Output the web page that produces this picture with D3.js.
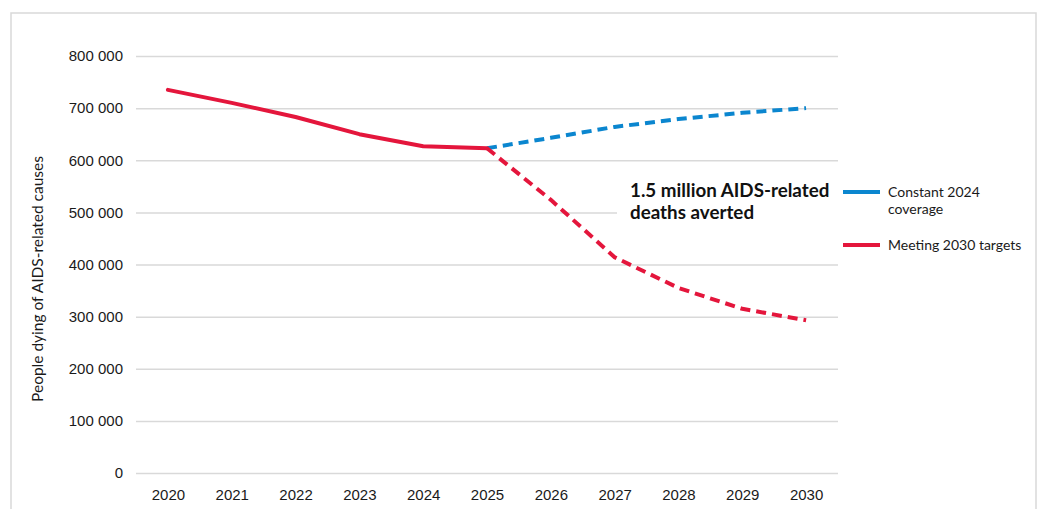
<!DOCTYPE html>
<html>
<head>
<meta charset="utf-8">
<script src="https://cdn.jsdelivr.net/npm/d3@7"></script>
<style>
  body { margin: 0; background: #fff; }
  svg { display: block; font-family: Lato, "Open Sans", sans-serif; }
</style>
</head>
<body>
<svg id="chart" width="1038" height="509"></svg>
<script>
// data
const years = [2020, 2021, 2022, 2023, 2024, 2025, 2026, 2027, 2028, 2029, 2030];
const historicYears = [2020, 2021, 2022, 2023, 2024, 2025];
const historicDeaths = [735000, 710000, 683000, 650000, 627000, 623000];
const projYears = [2025, 2026, 2027, 2028, 2029, 2030];
const constantCoverage = [623000, 643000, 664000, 679000, 691000, 700000];
const meetingTargets = [623000, 524000, 414000, 355000, 315000, 293000];
const yTicks = [0, 100000, 200000, 300000, 400000, 500000, 600000, 700000, 800000];
const legendLabels = [['Constant 2024', 'coverage'], ['Meeting 2030 targets']];
const annotation = ['1.5 million AIDS-related', 'deaths averted'];
const yLabel = 'People dying of AIDS-related causes';

const RED = '#e4163c';
const BLUE = '#0b86cf';
const GRID = '#d9d9d9';

const svg = d3.select('#chart');

const fmt = d3.formatLocale({ decimal: '.', thousands: ' ', grouping: [3], currency: ['', ''] }).format(',');

const x = d3.scalePoint().domain(years).range([136, 838]).padding(0.5);
const y = d3.scaleLinear().domain([0, 800000]).range([473, 56]);

// outer frame
svg.append('rect')
  .attr('x', 11).attr('y', 13)
  .attr('width', 1025).attr('height', 520)
  .attr('fill', 'none').attr('stroke', GRID).attr('stroke-width', 1.5);

// gridlines + y labels
const yAxis = d3.axisLeft(y).tickValues(yTicks).tickSize(-(838 - 136)).tickPadding(13).tickFormat(fmt);
const gy = svg.append('g').attr('transform', 'translate(136,0)').call(yAxis);
gy.select('.domain').remove();
gy.selectAll('.tick line').attr('stroke', GRID).attr('stroke-width', 1.5);
gy.selectAll('.tick text').attr('font-size', 15).attr('fill', '#1a1a1a');

// x labels
const xAxis = d3.axisBottom(x).tickSize(0).tickPadding(16);
const gx = svg.append('g').attr('transform', 'translate(0,473)').call(xAxis);
gx.select('.domain').remove();
gx.selectAll('.tick text').attr('font-size', 15).attr('fill', '#1a1a1a');

// y axis title
svg.append('text')
  .attr('transform', 'translate(43,279) rotate(-90)')
  .attr('text-anchor', 'middle')
  .attr('font-size', 15.5)
  .attr('fill', '#1a1a1a')
  .text(yLabel);

// annotation box hides the gridline behind it
svg.append('rect')
  .attr('x', 617).attr('y', 178).attr('width', 221).attr('height', 48)
  .attr('fill', '#fff');
svg.append('text')
  .attr('x', 630).attr('y', 197)
  .attr('font-size', 18.8).attr('font-weight', 700).attr('fill', '#111')
  .selectAll('tspan').data(annotation).join('tspan')
  .attr('x', 630).attr('dy', (d, i) => i ? 22 : 0)
  .text(d => d);

const line = d3.line().x(d => x(d[0])).y(d => y(d[1]));

svg.append('path')
  .datum(d3.zip(projYears, constantCoverage))
  .attr('d', line)
  .attr('fill', 'none').attr('stroke', BLUE).attr('stroke-width', 4)
  .attr('stroke-dasharray', '10 6');

svg.append('path')
  .datum(d3.zip(projYears, meetingTargets))
  .attr('d', line)
  .attr('fill', 'none').attr('stroke', RED).attr('stroke-width', 4)
  .attr('stroke-dasharray', '10 6');

svg.append('path')
  .datum(d3.zip(historicYears, historicDeaths))
  .attr('d', line)
  .attr('fill', 'none').attr('stroke', RED).attr('stroke-width', 4)
  .attr('stroke-linejoin', 'round').attr('stroke-linecap', 'round');

// legend
const legendColors = [BLUE, RED];
const legendY = [192, 245];
const lg = svg.append('g').selectAll('g').data(legendLabels).join('g')
  .attr('transform', (d, i) => `translate(843,${legendY[i]})`);
lg.append('line')
  .attr('x1', 0).attr('x2', 37)
  .attr('stroke', (d, i) => legendColors[i]).attr('stroke-width', 4);
lg.append('text')
  .attr('x', 45).attr('y', 5)
  .attr('font-size', 14).attr('fill', '#1a1a1a')
  .selectAll('tspan').data(d => d).join('tspan')
  .attr('x', 45).attr('dy', (d, i) => i ? 17 : 0)
  .text(d => d);
</script>
</body>
</html>
